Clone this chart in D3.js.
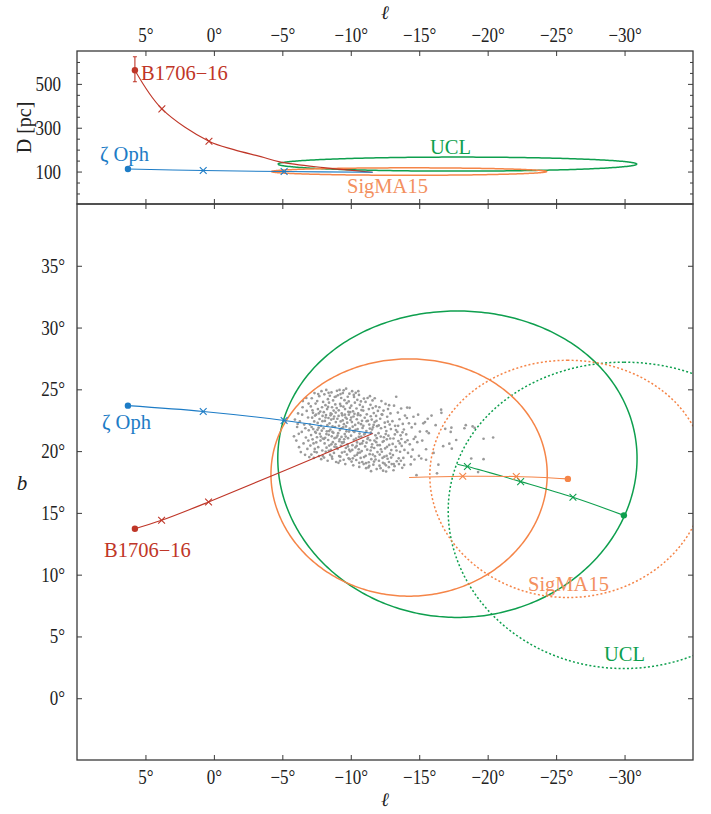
<!DOCTYPE html>
<html>
<head>
<meta charset="utf-8">
<script src="https://cdn.jsdelivr.net/npm/d3@7"></script>
<style>
  body { margin: 0; background: #fff; }
  svg text { font-family: "Liberation Serif", "Times New Roman", serif; }
</style>
</head>
<body>
<svg id="fig" width="711" height="814"></svg>
<script>
// ---------------------------------------------------------------------------
// Data
// ---------------------------------------------------------------------------
const lonTicks = [5, 0, -5, -10, -15, -20, -25, -30];
const latTicks = [0, 5, 10, 15, 20, 25, 30, 35];
const distTicks = [100, 300, 500];
const distMinorTicks = [0, 50, 150, 200, 250, 350, 400, 450, 550, 600];

// Sky tracks [ℓ, b] in degrees: today's position first, traced back to the encounter
const zetaOphTrack = [[6.28, 23.68], [0.78, 23.21], [-5.13, 22.48], [-11.60, 21.42]];
const zetaOphSteps = [[0.78, 23.21], [-5.13, 22.48]];
const b1706Track = [[5.77, 13.72], [3.82, 14.40], [0.39, 15.88], [-11.60, 21.42]];
const b1706Steps = [[3.82, 14.40], [0.39, 15.88]];
const uclTrack = [[-29.95, 14.80], [-26.23, 16.26], [-22.41, 17.53], [-18.52, 18.75], [-17.79, 18.94]];
const uclSteps = [[-26.23, 16.26], [-22.41, 17.53], [-18.52, 18.75]];
const sigmaTrack = [[-25.86, 17.75], [-22.09, 17.94], [-18.18, 17.96], [-14.26, 17.86]];
const sigmaSteps = [[-22.09, 17.94], [-18.18, 17.96]];

// Cluster footprints on the sky: [centre ℓ, centre b, angular radius]
const uclThen = [-17.79, 18.94, 12.4];
const uclNow = [-29.95, 14.80, 12.4];
const sigmaThen = [-14.26, 17.86, 9.6];
const sigmaNow = [-25.86, 17.75, 9.6];

// Distance tracks [ℓ, D in pc]
const zetaOphDist = [[6.28, 112], [0.78, 104.5], [-5.13, 100], [-11.60, 97]];
const zetaOphDistSteps = [[0.78, 104.5], [-5.13, 100]];
const b1706Dist = [[5.77, 562], [3.80, 386], [0.36, 238], [-1.46, 200], [-3.43, 168],
                   [-4.89, 143], [-8.00, 118], [-11.60, 97]];
const b1706DistSteps = [[3.80, 386], [0.36, 238]];
const b1706DistError = [5.77, 510, 624];

// Cluster extent in (ℓ, D): [centre ℓ, centre D, half-width ℓ, half-depth D]
const uclDistEllipse = [-17.79, 134, 13.1, 32];
const sigmaDistEllipse = [-14.26, 100, 10.05, 17];

// Members of the young association at the encounter epoch [ℓ, b]
const memberStars = [
  [-5.85,21.20],[-5.92,22.55],[-6.02,20.85],[-6.08,21.95],[-6.15,23.05],[-6.22,20.32],[-6.28,22.40],[-6.35,19.92],
  [-6.42,21.55],[-6.48,23.55],[-6.55,20.62],[-6.60,22.15],[-6.66,19.70],[-6.72,21.10],[-6.78,23.25],[-6.83,20.18],
  [-6.88,22.72],[-6.93,21.68],[-6.97,19.52],[-6.50,24.05],[-6.75,24.30],[-6.20,21.40],
  [-7.02,22.15],[-7.05,20.45],[-7.08,23.62],[-7.10,21.30],[-7.12,19.72],[-7.15,24.28],[-7.18,22.71],[-7.21,20.95],
  [-7.24,23.10],[-7.26,21.78],[-7.30,19.45],[-7.33,22.40],[-7.35,24.70],[-7.37,20.18],[-7.40,21.55],[-7.43,23.85],
  [-7.46,22.95],[-7.48,20.70],[-7.51,19.90],[-7.53,21.12],[-7.55,24.05],[-7.58,22.28],[-7.60,23.40],[-7.62,20.32],
  [-7.65,21.90],[-7.68,19.60],[-7.70,24.45],[-7.72,22.60],[-7.74,21.40],[-7.77,23.20],[-7.79,20.85],[-7.82,22.05],
  [-7.84,19.35],[-7.86,24.85],[-7.88,21.65],[-7.90,23.55],[-7.92,20.05],[-7.94,22.85],[-7.96,21.02],[-7.98,23.98],
  [-7.45,21.48],[-7.20,23.30],
  [-8.01,21.85],[-8.03,23.15],[-8.05,19.48],[-8.07,24.60],[-8.09,20.62],[-8.11,22.44],[-8.13,21.08],[-8.15,23.72],
  [-8.17,19.95],[-8.19,22.92],[-8.21,24.95],[-8.23,20.28],[-8.25,21.60],[-8.27,23.40],[-8.29,22.10],[-8.31,19.22],
  [-8.33,24.20],[-8.35,20.90],[-8.37,22.68],[-8.39,21.32],[-8.41,23.92],[-8.43,20.45],[-8.45,22.25],[-8.47,24.48],
  [-8.49,19.70],[-8.51,21.75],[-8.53,23.05],[-8.55,20.10],[-8.57,22.55],[-8.59,24.75],[-8.61,21.20],[-8.63,23.55],
  [-8.65,19.38],[-8.67,22.00],[-8.69,20.72],[-8.71,24.10],[-8.73,21.48],[-8.75,23.28],[-8.77,19.85],[-8.79,22.80],
  [-8.81,20.35],[-8.83,24.38],[-8.85,21.95],[-8.87,23.78],[-8.89,20.55],[-8.91,22.35],[-8.93,19.12],[-8.95,21.10],
  [-8.97,23.48],[-8.99,24.88],[-8.40,20.02],[-8.60,23.00],
  [-9.02,22.62],[-9.04,20.18],[-9.06,24.52],[-9.08,21.45],[-9.10,19.05],[-9.12,23.30],[-9.14,22.05],[-9.16,20.80],
  [-9.18,24.95],[-9.20,21.70],[-9.22,23.82],[-9.24,19.55],[-9.26,22.40],[-9.28,20.42],[-9.30,24.30],[-9.32,21.15],
  [-9.34,23.05],[-9.36,19.88],[-9.38,22.90],[-9.40,20.65],[-9.42,24.70],[-9.44,21.92],[-9.46,23.60],[-9.48,19.30],
  [-9.50,22.18],[-9.52,20.95],[-9.54,24.12],[-9.56,21.38],[-9.58,23.40],[-9.60,18.95],[-9.62,22.72],[-9.64,20.25],
  [-9.66,25.05],[-9.68,21.60],[-9.70,23.88],[-9.72,19.72],[-9.74,22.30],[-9.76,20.55],[-9.78,24.40],[-9.80,21.05],
  [-9.82,23.18],[-9.84,19.42],[-9.86,22.95],[-9.88,20.12],[-9.90,24.65],[-9.92,21.82],[-9.94,23.50],[-9.96,19.98],
  [-9.98,22.52],[-9.35,20.70],[-9.65,22.00],[-9.15,19.60],
  [-10.02,21.25],[-10.04,23.68],[-10.06,19.15],[-10.08,22.35],[-10.10,24.85],[-10.12,20.48],[-10.14,21.98],[-10.16,23.22],
  [-10.18,18.85],[-10.20,22.80],[-10.22,20.92],[-10.24,24.38],[-10.26,21.55],[-10.28,19.62],[-10.30,23.92],[-10.32,22.12],
  [-10.34,20.30],[-10.36,24.72],[-10.38,21.02],[-10.40,19.28],[-10.42,23.45],[-10.44,22.58],[-10.46,20.70],[-10.48,24.15],
  [-10.50,21.78],[-10.52,19.85],[-10.54,23.05],[-10.56,22.28],[-10.58,20.15],[-10.60,24.55],[-10.62,18.72],[-10.64,21.42],
  [-10.66,23.75],[-10.68,20.58],[-10.70,22.90],[-10.72,19.45],[-10.74,24.02],[-10.76,21.18],[-10.78,23.32],[-10.80,20.00],
  [-10.82,22.45],[-10.84,19.12],[-10.86,21.88],[-10.88,23.58],[-10.90,20.82],[-10.92,22.05],[-10.94,18.95],[-10.96,24.25],
  [-10.98,21.35],[-10.45,19.70],
  [-11.02,22.70],[-11.05,20.38],[-11.08,23.98],[-11.11,19.02],[-11.14,21.62],[-11.17,22.98],[-11.20,20.12],[-11.23,24.30],
  [-11.26,21.08],[-11.29,18.68],[-11.32,23.40],[-11.35,22.15],[-11.38,19.75],[-11.41,20.88],[-11.44,23.75],[-11.47,21.50],
  [-11.50,19.35],[-11.53,22.55],[-11.56,20.55],[-11.59,24.10],[-11.62,21.92],[-11.65,18.90],[-11.68,23.08],[-11.71,20.25],
  [-11.74,22.35],[-11.77,19.58],[-11.80,21.28],[-11.83,23.62],[-11.86,20.72],[-11.89,18.55],[-11.92,22.02],[-11.95,19.92],
  [-11.98,23.25],[-11.25,22.45],[-11.40,24.45],[-11.55,21.75],[-11.70,19.15],[-11.85,22.85],[-11.15,20.68],[-11.60,23.48],
  [-11.35,18.80],[-11.90,21.05],[-11.45,20.05],[-11.75,24.28],
  [-12.03,21.45],[-12.06,19.22],[-12.09,23.55],[-12.12,20.48],[-12.15,22.62],[-12.18,18.62],[-12.21,21.85],[-12.24,24.05],
  [-12.27,19.95],[-12.30,22.95],[-12.33,20.75],[-12.36,18.42],[-12.39,23.28],[-12.42,21.12],[-12.45,19.55],[-12.48,22.30],
  [-12.51,20.22],[-12.54,23.82],[-12.57,18.85],[-12.60,21.62],[-12.63,20.95],[-12.66,22.78],[-12.69,19.38],[-12.72,23.40],
  [-12.75,21.25],[-12.78,18.70],[-12.81,20.50],[-12.84,22.15],[-12.87,19.80],[-12.90,23.05],[-12.93,21.78],[-12.96,20.08],
  [-12.99,18.95],[-12.20,20.15],[-12.50,21.95],[-12.80,23.72],[-12.35,19.05],[-12.65,20.35],
  [-13.04,22.42],[-13.08,19.68],[-13.12,21.02],[-13.16,23.68],[-13.20,18.78],[-13.24,22.05],[-13.28,20.35],[-13.32,24.40],
  [-13.36,19.18],[-13.40,21.55],[-13.44,23.12],[-13.48,20.82],[-13.52,18.95],[-13.56,22.58],[-13.60,19.95],[-13.64,21.28],
  [-13.68,23.45],[-13.72,20.42],[-13.76,18.65],[-13.80,22.20],[-13.84,19.45],[-13.88,21.75],[-13.92,20.10],[-13.96,22.88],
  [-13.30,21.70],[-13.50,19.42],[-13.70,20.98],[-13.90,18.88],
  [-14.05,21.35],[-14.12,23.52],[-14.18,19.85],[-14.25,22.25],[-14.31,20.55],[-14.38,18.92],[-14.45,21.92],[-14.52,20.12],
  [-14.58,22.78],[-14.65,19.32],[-14.72,21.15],[-14.80,18.05],[-14.86,20.72],[-14.92,22.95],[-14.30,23.50],[-14.60,20.98],
  [-14.98,19.62],
  [-15.05,21.58],[-15.15,19.40],[-15.22,20.85],[-15.30,22.25],[-15.42,22.35],[-15.50,20.15],[-15.55,21.60],[-15.62,22.62],
  [-15.70,21.45],[-15.90,22.88],[-15.50,19.30],
  [-16.05,19.85],[-16.20,22.10],[-16.30,18.20],[-16.40,18.90],[-16.60,23.35],[-16.62,23.10],[-16.90,21.80],[-16.75,20.40],
  [-17.20,20.60],[-17.35,21.90],[-17.38,20.20],[-17.30,21.55],[-17.70,20.90],
  [-18.30,21.85],[-18.40,22.10],[-18.90,22.00],[-18.80,19.40],[-19.05,21.88],[-19.70,21.00],[-19.70,19.35],[-19.30,18.30],
  [-20.40,21.10],
  [-6.90,20.85],[-7.14,21.95],[-7.28,20.62],[-7.39,22.88],[-7.57,21.72],[-7.66,23.05],[-7.81,21.18],[-7.93,22.42],
  [-8.04,20.98],[-8.16,22.72],[-8.22,21.38],[-8.34,23.58],[-8.42,21.62],[-8.52,22.90],[-8.58,20.55],[-8.66,21.55],
  [-8.74,22.62],[-8.82,21.05],[-8.90,23.12],[-8.96,20.30],
  [-9.03,21.25],[-9.11,22.85],[-9.19,20.95],[-9.27,23.65],[-9.33,21.85],[-9.41,22.48],[-9.49,20.72],[-9.57,22.95],
  [-9.63,21.18],[-9.71,22.62],[-9.79,20.38],[-9.87,21.58],[-9.95,23.15],[-9.25,24.62],[-9.55,19.95],[-9.85,24.02],
  [-10.03,22.72],[-10.11,20.10],[-10.19,21.62],[-10.27,23.02],[-10.35,21.72],[-10.43,20.42],[-10.51,22.92],[-10.59,21.15],
  [-10.67,19.88],[-10.75,22.18],[-10.83,20.62],[-10.91,23.28],[-10.97,19.52],[-10.15,19.42],[-10.55,24.85],
  [-11.03,21.42],[-11.09,19.62],[-11.16,22.42],[-11.22,20.98],[-11.31,19.10],[-11.39,21.82],[-11.46,22.82],[-11.52,20.32],
  [-11.61,19.72],[-11.67,22.12],[-11.73,20.85],[-11.81,19.32],[-11.88,22.45],[-11.96,20.48],
  [-12.04,22.08],[-12.11,19.72],[-12.19,21.18],[-12.26,22.98],[-12.32,19.45],[-12.41,20.82],[-12.47,18.98],[-12.55,21.38],
  [-12.62,19.62],[-12.71,22.38],[-12.79,19.12],[-12.88,21.02],[-12.95,19.48],
  [-13.06,20.58],[-13.14,18.95],[-13.22,21.35],[-13.34,20.05],[-13.46,22.05],[-13.58,20.62],[-13.66,19.22],[-13.78,21.52],
  [-13.98,20.72],[-14.15,20.88],[-14.42,19.55],[-14.70,22.20],[-14.10,22.68],
  [-6.45,22.95],[-6.68,21.85],[-6.12,22.20],[-6.92,23.85],[-7.62,24.62],[-8.38,24.72],[-8.92,24.42],[-9.48,24.92],[-10.22,24.55],
  [-7.35,19.95],[-7.95,19.62],[-8.62,19.55],[-9.22,19.22],[-9.92,19.35],[-10.62,19.05],[-11.12,18.62],[-12.10,18.82],[-12.58,18.35],
  [-13.12,18.45],[-11.48,18.38]
];

// ---------------------------------------------------------------------------
// Layout and styles
// ---------------------------------------------------------------------------
const X0 = 77, X1 = 693;
const TOP_Y0 = 51, MID_Y = 204, BOT_Y1 = 760;
const TICK_FONT = 17, TICK_STRETCH = 1.2;

const colors = {
  zeta: "#1d7cc6",
  b1706: "#bf3628",
  ucl: "#0e9f4e",
  sigma: "#f58548",
  sigmaText: "#f39060",
  stars: "#9a9a9a",
  frame: "#3a3a3a",
  text: "#222"
};

const svg = d3.select("#fig");

const x = d3.scaleLinear().domain([10, -35]).range([X0, X1]);
const yD = d3.scaleLinear().domain([-48, 650]).range([MID_Y, TOP_Y0]);
const yB = d3.scaleLinear().domain([-5, 40]).range([BOT_Y1, MID_Y]);

const defs = svg.append("defs");
defs.append("clipPath").attr("id", "clipTop")
  .append("rect").attr("x", X0).attr("y", TOP_Y0).attr("width", X1 - X0).attr("height", MID_Y - TOP_Y0);
defs.append("clipPath").attr("id", "clipSky")
  .append("rect").attr("x", X0).attr("y", MID_Y).attr("width", X1 - X0).attr("height", BOT_Y1 - MID_Y);

// Small circle of given angular radius around (l0, b0) on the celestial sphere
function skyCircle([l0, b0, r], n = 360) {
  const rad = Math.PI / 180;
  const pts = [];
  for (let i = 0; i <= n; i++) {
    const t = 2 * Math.PI * i / n;
    const sb = Math.sin(b0 * rad) * Math.cos(r * rad) + Math.cos(b0 * rad) * Math.sin(r * rad) * Math.cos(t);
    const b = Math.asin(sb);
    const dl = Math.atan2(Math.sin(t) * Math.sin(r * rad) * Math.cos(b0 * rad),
                          Math.cos(r * rad) - Math.sin(b0 * rad) * sb);
    pts.push([l0 + dl / rad, b / rad]);
  }
  return pts;
}

function ellipse([lc, dc, hl, hd], n = 360) {
  const pts = [];
  for (let i = 0; i <= n; i++) {
    const t = 2 * Math.PI * i / n;
    pts.push([lc + hl * Math.cos(t), dc + hd * Math.sin(t)]);
  }
  return pts;
}

function crossMarks(g, pts, xs, ys, color, s = 3.4) {
  g.selectAll(null).data(pts).join("path")
    .attr("d", d => {
      const cx = xs(d[0]), cy = ys(d[1]);
      return `M${cx - s},${cy - s}L${cx + s},${cy + s}M${cx - s},${cy + s}L${cx + s},${cy - s}`;
    })
    .attr("stroke", color).attr("stroke-width", 1.1).attr("fill", "none");
}

// ---------------------------------------------------------------------------
// Upper panel: distance against longitude
// ---------------------------------------------------------------------------
const gTop = svg.append("g").attr("clip-path", "url(#clipTop)");
const lineTop = d3.line().x(d => x(d[0])).y(d => yD(d[1]));
const trackTop = d3.line().x(d => x(d[0])).y(d => yD(d[1])).curve(d3.curveCatmullRom.alpha(0.5));

gTop.append("path").attr("d", lineTop(ellipse(uclDistEllipse)))
  .attr("fill", "none").attr("stroke", colors.ucl).attr("stroke-width", 1.5);
gTop.append("path").attr("d", lineTop(ellipse(sigmaDistEllipse)))
  .attr("fill", "none").attr("stroke", colors.sigma).attr("stroke-width", 1.5);

gTop.append("path").attr("d", trackTop(b1706Dist))
  .attr("fill", "none").attr("stroke", colors.b1706).attr("stroke-width", 1.1);
gTop.append("path").attr("d", trackTop(zetaOphDist))
  .attr("fill", "none").attr("stroke", colors.zeta).attr("stroke-width", 1.1);

crossMarks(gTop, b1706DistSteps, x, yD, colors.b1706);
crossMarks(gTop, zetaOphDistSteps, x, yD, colors.zeta);

// distance uncertainty of the pulsar
{
  const [l, lo, hi] = b1706DistError;
  const cx = x(l);
  gTop.append("path")
    .attr("d", `M${cx},${yD(lo)}L${cx},${yD(hi)}M${cx - 2},${yD(lo)}L${cx + 2},${yD(lo)}M${cx - 2},${yD(hi)}L${cx + 2},${yD(hi)}`)
    .attr("stroke", colors.b1706).attr("stroke-width", 1.1).attr("fill", "none");
}
gTop.append("circle").attr("cx", x(b1706Dist[0][0])).attr("cy", yD(b1706Dist[0][1])).attr("r", 3.2).attr("fill", colors.b1706);
gTop.append("circle").attr("cx", x(zetaOphDist[0][0])).attr("cy", yD(zetaOphDist[0][1])).attr("r", 3.2).attr("fill", colors.zeta);

// ---------------------------------------------------------------------------
// Lower panel: the sky in Galactic coordinates
// ---------------------------------------------------------------------------
const gSky = svg.append("g").attr("clip-path", "url(#clipSky)");
const lineSky = d3.line().x(d => x(d[0])).y(d => yB(d[1]));
const trackSky = d3.line().x(d => x(d[0])).y(d => yB(d[1])).curve(d3.curveCatmullRom.alpha(0.5));

gSky.selectAll(null).data(memberStars).join("circle")
  .attr("cx", d => x(d[0])).attr("cy", d => yB(d[1])).attr("r", 1.35)
  .attr("fill", colors.stars);

gSky.append("path").attr("d", lineSky(skyCircle(uclThen)))
  .attr("fill", "none").attr("stroke", colors.ucl).attr("stroke-width", 1.5);
gSky.append("path").attr("d", lineSky(skyCircle(uclNow)))
  .attr("fill", "none").attr("stroke", colors.ucl).attr("stroke-width", 1.5).attr("stroke-dasharray", "2,2.2");
gSky.append("path").attr("d", lineSky(skyCircle(sigmaThen)))
  .attr("fill", "none").attr("stroke", colors.sigma).attr("stroke-width", 1.5);
gSky.append("path").attr("d", lineSky(skyCircle(sigmaNow)))
  .attr("fill", "none").attr("stroke", colors.sigma).attr("stroke-width", 1.5).attr("stroke-dasharray", "2,2.2");

const tracks = [
  [zetaOphTrack, zetaOphSteps, colors.zeta],
  [b1706Track, b1706Steps, colors.b1706],
  [uclTrack, uclSteps, colors.ucl],
  [sigmaTrack, sigmaSteps, colors.sigma]
];
tracks.forEach(([track, steps, color]) => {
  gSky.append("path").attr("d", trackSky(track))
    .attr("fill", "none").attr("stroke", color).attr("stroke-width", 1.1);
  crossMarks(gSky, steps, x, yB, color);
  gSky.append("circle").attr("cx", x(track[0][0])).attr("cy", yB(track[0][1])).attr("r", 3.2).attr("fill", color);
});

// ---------------------------------------------------------------------------
// Axes and frames
// ---------------------------------------------------------------------------
const degFmt = d => (d < 0 ? "\u2212" + Math.abs(d) : String(d)) + "\u00b0";
const tickFont = g => {
  g.attr("font-family", null).attr("font-size", null);
  g.selectAll("text")
    .attr("font-size", TICK_FONT).attr("fill", colors.text)
    .attr("transform", `scale(1,${TICK_STRETCH})`)
    .style("font-family", "'Liberation Serif', serif");
};
const noDomain = g => g.select(".domain").remove();

function styleTicks(g) {
  g.selectAll(".tick line").attr("stroke", colors.frame).attr("stroke-width", 1);
}

// top edge of the upper panel (labelled)
svg.append("g").attr("transform", `translate(0,${TOP_Y0})`)
  .call(d3.axisTop(x).tickValues(lonTicks).tickSizeInner(-5).tickSizeOuter(0).tickPadding(7.3).tickFormat(degFmt))
  .call(noDomain).call(tickFont).call(styleTicks);
// bottom edge of the upper panel
svg.append("g").attr("transform", `translate(0,${MID_Y})`)
  .call(d3.axisBottom(x).tickValues(lonTicks).tickSizeInner(-5).tickSizeOuter(0).tickFormat(""))
  .call(noDomain).call(styleTicks);
// top edge of the lower panel
svg.append("g").attr("transform", `translate(0,${MID_Y})`)
  .call(d3.axisTop(x).tickValues(lonTicks).tickSizeInner(-5).tickSizeOuter(0).tickFormat(""))
  .call(noDomain).call(styleTicks);
// bottom edge of the lower panel (labelled)
svg.append("g").attr("transform", `translate(0,${BOT_Y1})`)
  .call(d3.axisBottom(x).tickValues(lonTicks).tickSizeInner(-5).tickSizeOuter(0).tickPadding(8).tickFormat(degFmt))
  .call(noDomain).call(tickFont).call(styleTicks);

// distance axis
svg.append("g").attr("transform", `translate(${X0},0)`)
  .call(d3.axisLeft(yD).tickValues(distTicks).tickSizeInner(-5).tickSizeOuter(0).tickPadding(16))
  .call(noDomain).call(tickFont).call(styleTicks);
svg.append("g").attr("transform", `translate(${X0},0)`)
  .call(d3.axisLeft(yD).tickValues(distMinorTicks).tickSizeInner(-3).tickSizeOuter(0).tickFormat(""))
  .call(noDomain).call(styleTicks);
svg.append("g").attr("transform", `translate(${X1},0)`)
  .call(d3.axisRight(yD).tickValues(distTicks).tickSizeInner(-5).tickSizeOuter(0).tickFormat(""))
  .call(noDomain).call(styleTicks);
svg.append("g").attr("transform", `translate(${X1},0)`)
  .call(d3.axisRight(yD).tickValues(distMinorTicks).tickSizeInner(-3).tickSizeOuter(0).tickFormat(""))
  .call(noDomain).call(styleTicks);

// latitude axis
svg.append("g").attr("transform", `translate(${X0},0)`)
  .call(d3.axisLeft(yB).tickValues(latTicks).tickSizeInner(-5).tickSizeOuter(0).tickPadding(12).tickFormat(degFmt))
  .call(noDomain).call(tickFont).call(styleTicks);
svg.append("g").attr("transform", `translate(${X1},0)`)
  .call(d3.axisRight(yB).tickValues(latTicks).tickSizeInner(-5).tickSizeOuter(0).tickFormat(""))
  .call(noDomain).call(styleTicks);

// frames
svg.append("rect").attr("x", X0).attr("y", TOP_Y0).attr("width", X1 - X0).attr("height", MID_Y - TOP_Y0)
  .attr("fill", "none").attr("stroke", colors.frame).attr("stroke-width", 1.3);
svg.append("rect").attr("x", X0).attr("y", MID_Y).attr("width", X1 - X0).attr("height", BOT_Y1 - MID_Y)
  .attr("fill", "none").attr("stroke", colors.frame).attr("stroke-width", 1.3);

// axis titles
svg.append("text").attr("x", (X0 + X1) / 2).attr("y", 19).attr("text-anchor", "middle")
  .attr("font-size", 19).attr("font-style", "italic").attr("fill", colors.text)
  .style("font-family", "'DejaVu Serif', serif").text("\u2113");
svg.append("text").attr("x", (X0 + X1) / 2).attr("y", 806).attr("text-anchor", "middle")
  .attr("font-size", 19).attr("font-style", "italic").attr("fill", colors.text)
  .style("font-family", "'DejaVu Serif', serif").text("\u2113");
svg.append("text").attr("transform", `translate(31,${(TOP_Y0 + MID_Y) / 2}) rotate(-90)`)
  .attr("text-anchor", "middle").attr("font-size", 20).attr("fill", colors.text).text("D [pc]");
svg.append("text").attr("x", 22).attr("y", 490).attr("text-anchor", "middle")
  .attr("font-size", 21).attr("font-style", "italic").attr("fill", colors.text).text("b");

// object labels
const label = (txt, px, py, color) => svg.append("text").attr("x", px).attr("y", py)
  .attr("font-size", 20.5).attr("fill", color).text(txt);
label("B1706\u221216", 141, 80, colors.b1706);
label("\u03b6 Oph", 100, 161, colors.zeta);
label("UCL", 430, 154, colors.ucl);
label("SigMA15", 347, 193, colors.sigmaText);
label("\u03b6 Oph", 102, 429, colors.zeta);
label("B1706\u221216", 104, 557, colors.b1706);
label("SigMA15", 528, 591, colors.sigmaText);
label("UCL", 604, 661, colors.ucl);
</script>
</body>
</html>
